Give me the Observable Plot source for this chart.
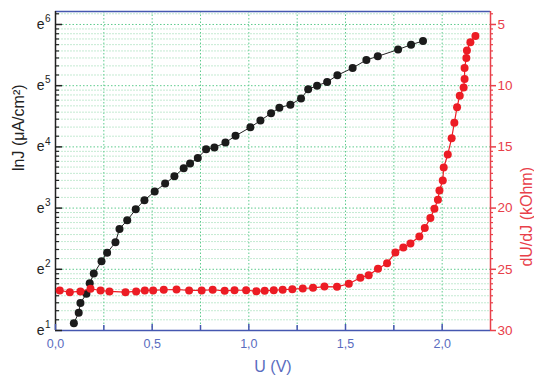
<!DOCTYPE html>
<html>
<head>
<meta charset="utf-8">
<script src="https://cdn.jsdelivr.net/npm/d3@7"></script>
<script src="https://cdn.jsdelivr.net/npm/@observablehq/plot@0.6"></script>
<style>
  html, body { margin: 0; padding: 0; background: #fff; overflow: hidden; }
</style>
</head>
<body>
<div id="chart"></div>
<script>
// Current density (log base e) versus bias voltage
const uJ = [0.095, 0.120, 0.129, 0.160, 0.177, 0.198, 0.238, 0.267, 0.310, 0.331,
            0.371, 0.415, 0.460, 0.513, 0.567, 0.615, 0.663, 0.696, 0.736, 0.779,
            0.822, 0.879, 0.931, 1.008, 1.060, 1.115, 1.158, 1.215, 1.270, 1.307,
            1.353, 1.405, 1.458, 1.537, 1.608, 1.667, 1.772, 1.839, 1.901];
const lnJ = [1.12, 1.29, 1.45, 1.60, 1.77, 1.93, 2.13, 2.27, 2.44, 2.66,
             2.80, 2.98, 3.13, 3.27, 3.40, 3.52, 3.65, 3.73, 3.82, 3.96,
             3.99, 4.07, 4.18, 4.32, 4.43, 4.55, 4.64, 4.69, 4.79, 4.94,
             5.00, 5.06, 5.17, 5.29, 5.42, 5.48, 5.59, 5.67, 5.73];

// Differential resistance dU/dJ (kOhm) versus bias voltage
const uR = [0.022, 0.074, 0.129, 0.181, 0.233, 0.279, 0.362, 0.417, 0.462, 0.505,
            0.560, 0.626, 0.691, 0.756, 0.813, 0.875, 0.926, 0.986, 1.039, 1.082,
            1.129, 1.175, 1.225, 1.279, 1.332, 1.391, 1.456, 1.517, 1.577, 1.620,
            1.668, 1.715, 1.758, 1.799, 1.836, 1.882, 1.910, 1.939, 1.960, 1.978,
            1.986, 2.003, 2.008, 2.029, 2.049, 2.063, 2.077, 2.091, 2.111, 2.116,
            2.116, 2.125, 2.128, 2.146, 2.172];
const dUdJ = [26.73, 26.87, 26.81, 26.59, 26.73, 26.81, 26.87, 26.81, 26.73, 26.73,
              26.67, 26.65, 26.73, 26.73, 26.67, 26.76, 26.71, 26.71, 26.79, 26.76,
              26.71, 26.67, 26.62, 26.57, 26.51, 26.41, 26.43, 26.18, 25.69, 25.48,
              24.96, 24.50, 23.63, 23.22, 22.89, 22.32, 21.63, 20.81, 20.06, 19.32,
              18.56, 17.75, 16.68, 15.62, 14.29, 13.03, 11.76, 10.82, 10.15, 9.45,
              8.55, 7.74, 7.12, 6.45, 5.94];

// Axis ticks and labels
const xTicks = [0, 0.5, 1, 1.5, 2];
const xTickLabels = ["0,0", "0,5", "1,0", "1,5", "2,0"];
const xMinorTicks = [0.25, 0.75, 1.25, 1.75];
const yPowers = [1, 2, 3, 4, 5, 6];
const rTicks = [5, 10, 15, 20, 25, 30];

const xMax = 2.25;
const yTop = 6.212;

// Right axis (dU/dJ, reversed) shares the frame with the left axis:
// 5 kOhm sits at e^6, 30 kOhm at e^1.
const rToY = r => (35 - r) / 5;

// Minor ticks of a base-e log axis: linear steps between e^n and e^(n+1)
const yMinor = [];
for (let n = 1; n <= 6; n++) {
  for (let i = 1; i <= 8; i++) {
    const v = n + Math.log(1 + i * (Math.E - 1) / 9);
    if (v < yTop) yMinor.push(v);
  }
}

const jData = uJ.map((u, i) => ({u, v: lnJ[i]}));
const rData = uR.map((u, i) => ({u, v: rToY(dUdJ[i])}));

const W = 534, H = 383;
const mL = 55, mR = 44, mT = 11, mB = 53;
const fw = W - mL - mR, fh = H - mT - mB;

const BLUE = "#4557b0";
const BLUE_TXT = "#5a6cc0";
const RED = "#ec1c24";
const RED_AX = "#e8404a";
const GRID = "#5fcb8e";
const GRID_MINOR = "#c4ead2";

const chart = Plot.plot({
  width: W,
  height: H,
  marginLeft: mL,
  marginRight: mR,
  marginTop: mT,
  marginBottom: mB,
  style: {fontFamily: "'Liberation Sans', Arial, sans-serif", background: "#fff", overflow: "visible"},
  x: {domain: [0, xMax], axis: null},
  y: {domain: [1, yTop], axis: null},
  marks: [
    // grid
    Plot.ruleY(yMinor, {y: d => d, stroke: GRID_MINOR, strokeWidth: 1, strokeDasharray: "2,1"}),
    Plot.ruleY(yPowers, {y: d => d, stroke: GRID, strokeWidth: 1, strokeDasharray: "1.5,2"}),
    Plot.ruleX([...xMinorTicks, ...xTicks.slice(1)], {x: d => d, stroke: GRID, strokeWidth: 1, strokeDasharray: "1.5,2"}),

    // frame
    Plot.ruleY([yTop], {y: d => d, stroke: BLUE, strokeWidth: 1.5}),
    Plot.ruleY([1], {y: d => d, stroke: BLUE, strokeWidth: 1.5}),
    Plot.ruleX([0], {x: d => d, stroke: "#222", strokeWidth: 1.5}),
    Plot.ruleX([xMax], {x: d => d, stroke: RED_AX, strokeWidth: 1.5}),

    // left axis ticks (inward)
    Plot.tickY(yPowers, {y: d => d, stroke: "#222", strokeWidth: 1.5, insetRight: fw - 7}),
    Plot.tickY(yMinor, {y: d => d, stroke: "#222", strokeWidth: 1.2, insetRight: fw - 4}),
    // right axis ticks (outward)
    Plot.tickY(rTicks, {y: d => rToY(d), stroke: RED_AX, strokeWidth: 1.5, insetLeft: fw, insetRight: -6}),
    Plot.tickY(yMinor, {y: d => d, stroke: RED_AX, strokeWidth: 1.2, insetLeft: fw, insetRight: -3}),
    // bottom axis ticks (inward)
    Plot.tickX(xTicks, {x: d => d, stroke: BLUE, strokeWidth: 1.5, insetTop: fh - 6}),
    Plot.tickX(xMinorTicks, {x: d => d, stroke: BLUE, strokeWidth: 1.5, insetTop: fh - 5}),

    // tick labels
    Plot.text(yPowers, {y: d => d, text: () => "e", frameAnchor: "left", textAnchor: "end", dx: -11, fontSize: 14, fill: "#222"}),
    Plot.text(yPowers, {y: d => d, text: d => String(d), frameAnchor: "left", textAnchor: "start", dx: -10.5, dy: -5.5, fontSize: 10, fill: "#222"}),
    Plot.text(rTicks, {y: d => rToY(d), text: d => String(d), frameAnchor: "right", textAnchor: "start", dx: 7, fontSize: 13.5, fill: RED_AX}),
    Plot.text(xTicks, {x: d => d, text: (d, i) => xTickLabels[i], frameAnchor: "bottom", dy: 17.5, fontSize: 12.5, fill: BLUE_TXT}),

    // axis titles
    Plot.text(["lnJ (μA/cm²)"], {text: d => d, frameAnchor: "left", dx: -37, rotate: -90, fontSize: 16, fill: "#222"}),
    Plot.text(["dU/dJ (kOhm)"], {text: d => d, frameAnchor: "right", dx: 36, dy: -4, rotate: -90, fontSize: 16, fill: RED_AX}),
    Plot.text(["U (V)"], {text: d => d, frameAnchor: "bottom", dy: 41, fontSize: 16, fill: BLUE_TXT}),

    // series
    Plot.line(jData, {x: "u", y: "v", stroke: "#222", strokeWidth: 1}),
    Plot.dot(jData, {x: "u", y: "v", r: 4, fill: "#1b1b1b", stroke: "none"}),
    Plot.line(rData, {x: "u", y: "v", stroke: RED, strokeWidth: 1.2}),
    Plot.dot(rData, {x: "u", y: "v", r: 4, fill: RED, stroke: "none"})
  ]
});

document.getElementById("chart").appendChild(chart);
</script>
</body>
</html>
